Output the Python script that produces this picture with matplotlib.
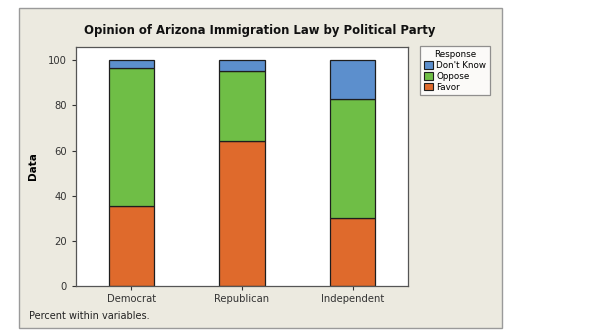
import matplotlib
matplotlib.use("Agg")
import matplotlib.pyplot as plt
from matplotlib.patches import Rectangle, Patch
import numpy as np

# percent within each party
parties = ["Democrat", "Republican", "Independent"]
favor = [35.6, 64.1, 30.3]
oppose = [60.9, 31.2, 52.4]
dont_know = [3.5, 4.7, 17.3]

colors = {"Favor": "#DF6A2C", "Oppose": "#6FBE46", "Don't Know": "#5C8FCD"}

plt.rcParams["font.family"] = ["DejaVu Sans"]

fig = plt.figure(figsize=(6, 3.36), dpi=100)
fig.patch.set_facecolor("white")

# beige graph panel behind everything
panel = Rectangle((0.031, 0.024), 0.805, 0.951, transform=fig.transFigure,
                  facecolor="#ECEAE0", edgecolor="#9A9A9A", linewidth=1.0, zorder=-10)
fig.patches.append(panel)

ax = fig.add_axes([0.1267, 0.1488, 0.5533, 0.7122])
ax.set_zorder(1)
ax.set_facecolor("white")

x = np.arange(1, len(parties) + 1)
w = 0.41
bottoms = np.zeros(len(parties))
for name, vals in [("Favor", favor), ("Oppose", oppose), ("Don't Know", dont_know)]:
    ax.bar(x, vals, w, bottom=bottoms, color=colors[name], edgecolor="#1E1E1E",
           linewidth=0.9, label=name, zorder=2)
    bottoms += np.array(vals)

ax.set_xlim(0.5, 3.5)
ax.set_ylim(0, 106)
ax.set_yticks([0, 20, 40, 60, 80, 100])
ax.set_xticks(x)
ax.set_xticklabels(parties)
ax.tick_params(axis="both", labelsize=7.2, colors="#333333", length=3, width=0.8)
ax.tick_params(axis="x", pad=3)
for s in ax.spines.values():
    s.set_color("#555555")
    s.set_linewidth(0.9)

ax.set_ylabel("Data", fontsize=7.5, fontweight="bold", labelpad=7)

fig.text(0.433, 0.908, "Opinion of Arizona Immigration Law by Political Party",
         ha="center", va="center", fontsize=8.4, fontweight="bold", color="#111111")
fig.text(0.048, 0.06, "Percent within variables.", ha="left", va="center",
         fontsize=7, color="#222222")

handles = [Patch(facecolor=colors[n], edgecolor="#1E1E1E", linewidth=0.8)
           for n in ["Don't Know", "Oppose", "Favor"]]
leg = fig.legend(handles, ["Don't Know", "Oppose", "Favor"], title="Response",
                 loc="upper left", bbox_to_anchor=(0.70, 0.862),
                 fontsize=6.3, title_fontsize=6.3, frameon=True, fancybox=False,
                 handlelength=1.0, handleheight=1.0, handletextpad=0.4,
                 labelspacing=0.2, borderpad=0.45, borderaxespad=0)
leg.get_frame().set_edgecolor("#777777")
leg.get_frame().set_facecolor("white")
leg.get_frame().set_linewidth(0.9)

fig.savefig("out.png", dpi=100)
